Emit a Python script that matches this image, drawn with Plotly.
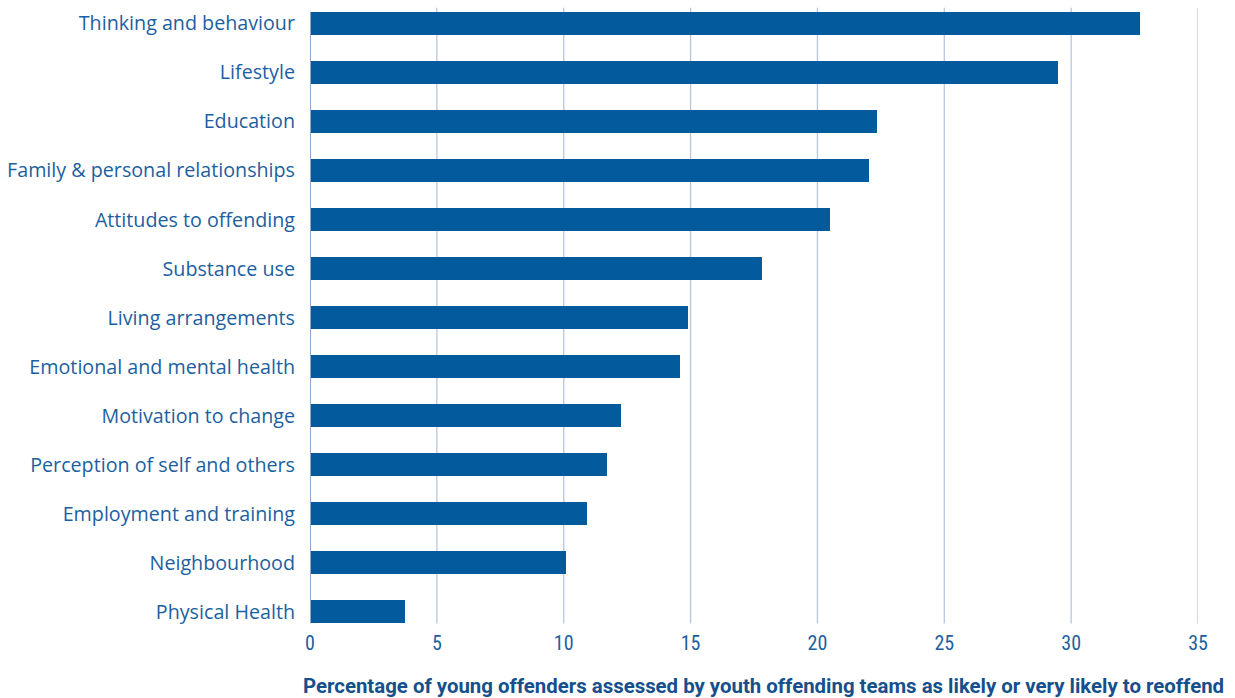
import plotly.graph_objects as go

categories = [
    "Thinking and behaviour", "Lifestyle", "Education",
    "Family & personal relationships", "Attitudes to offending", "Substance use",
    "Living arrangements", "Emotional and mental health", "Motivation to change",
    "Perception of self and others", "Employment and training", "Neighbourhood",
    "Physical Health",
]
values = [32.7, 29.5, 22.35, 22.05, 20.5, 17.8, 14.9, 14.6, 12.25, 11.7, 10.9, 10.1, 3.75]
x_ticks = [0, 5, 10, 15, 20, 25, 30, 35]

BAR = "#035a9c"
TXT = "#1c5fa0"
GRID = "#b7c6e0"

fig = go.Figure(go.Bar(
    y=categories, x=values, orientation="h",
    marker=dict(color=BAR, line=dict(width=0)), width=0.47,
))

shapes = []
for t in x_ticks[1:]:
    shapes.append(dict(type="line", xref="x", yref="y", x0=t, x1=t, y0=-0.32, y1=12.24,
                       line=dict(color=GRID, width=1.3), layer="below"))
shapes.append(dict(type="line", xref="x", yref="y", x0=0, x1=0, y0=-0.24, y1=12.24,
                   line=dict(color="#8fa9d0", width=2), layer="above"))

fig.update_layout(
    width=1235, height=698,
    margin=dict(l=310, r=37, t=0, b=74),
    plot_bgcolor="white", paper_bgcolor="white",
    showlegend=False,
    bargap=0,
    shapes=shapes,
    xaxis=dict(range=[0, 35], tickvals=x_ticks, showgrid=False, zeroline=False,
               showline=False, ticks="", ticklabelstandoff=5,
               tickfont=dict(family="Roboto Condensed, Liberation Sans Narrow, sans-serif",
                             size=20, color=TXT)),
    yaxis=dict(range=[12.25, -0.48], showgrid=False, zeroline=False, showline=False,
               ticks="", ticklabelstandoff=14,
               tickfont=dict(family="Open Sans, sans-serif", size=19.7, color=TXT)),
    annotations=[dict(
        text="<b>Percentage of young offenders assessed by youth offending teams as likely or very likely to reoffend</b>",
        xref="paper", yref="paper", x=0.511, y=-74/624 + 12/624, xanchor="center", yanchor="middle",
        showarrow=False,
        font=dict(family="Roboto, sans-serif", size=20.4, color="#15508c"),
    )],
)

fig.write_html("out.html")
